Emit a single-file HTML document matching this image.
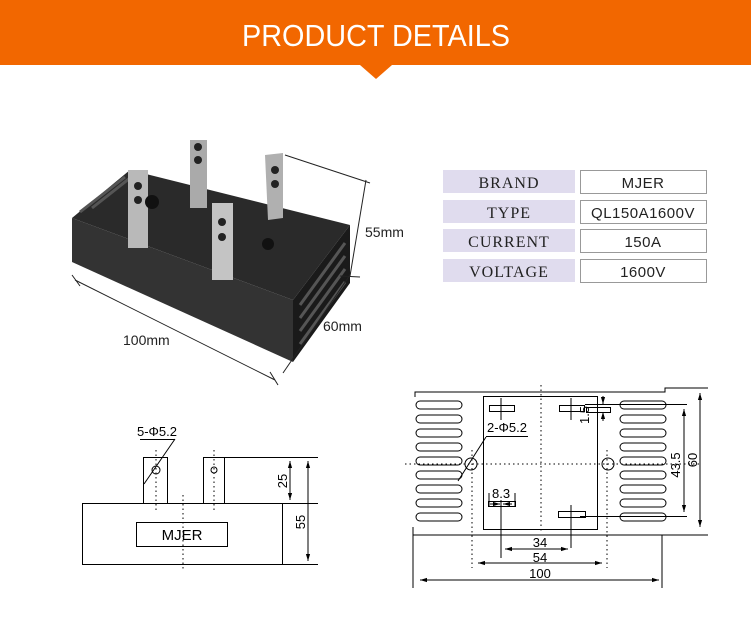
<!DOCTYPE html>
<html><head><meta charset="utf-8"><style>
body{margin:0;background:#fff;width:751px;height:624px;overflow:hidden;font-family:"Liberation Sans",sans-serif}
</style></head><body>
<svg width="751" height="624" viewBox="0 0 751 624" xmlns="http://www.w3.org/2000/svg">
<defs>
<marker id="a" viewBox="0 0 10 10" refX="10" refY="5" markerWidth="7" markerHeight="7" orient="auto-start-reverse"><path d="M0,2 L10,5 L0,8 z" fill="#000"/></marker>
</defs>
<rect x="0" y="0" width="751" height="65" fill="#F26700"/>
<polygon points="360,65 392,65 376,79" fill="#F26700"/>
<text x="376" y="46" fill="#fff" font-size="31" text-anchor="middle" transform="translate(376 0) scale(0.93 1) translate(-376 0)">PRODUCT  DETAILS</text>

<g>
<polygon points="72,218 130,170 350,225 293,300" fill="#2a2a2a"/>
<polygon points="72,218 293,300 293,362 72,262" fill="#333"/>
<polygon points="293,300 350,225 350,283 293,362" fill="#1a1a1a"/>
<g stroke="#555" stroke-width="3">
<line x1="300" y1="305" x2="345" y2="243"/><line x1="300" y1="318" x2="345" y2="256"/><line x1="300" y1="331" x2="345" y2="269"/><line x1="300" y1="344" x2="345" y2="282"/>
<line x1="80" y1="212" x2="125" y2="177"/><line x1="92" y1="208" x2="135" y2="174"/>
</g>
<rect x="128" y="170" width="20" height="78" fill="#b9b9b9"/>
<rect x="190" y="140" width="17" height="68" fill="#aaa"/>
<polygon points="265,155 283,153 283,218 268,220" fill="#b0b0b0"/>
<rect x="212" y="203" width="21" height="77" fill="#c4c4c4"/>
<circle cx="138" cy="186" r="4" fill="#222"/><circle cx="138" cy="200" r="4" fill="#222"/>
<circle cx="198" cy="147" r="4" fill="#222"/><circle cx="198" cy="160" r="4" fill="#222"/>
<circle cx="275" cy="170" r="4" fill="#222"/><circle cx="275" cy="184" r="4" fill="#222"/>
<circle cx="222" cy="222" r="4" fill="#222"/><circle cx="222" cy="237" r="4" fill="#222"/>
<circle cx="268" cy="244" r="6" fill="#111"/><circle cx="152" cy="202" r="7" fill="#111"/>
</g>
<g stroke="#222" stroke-width="1" fill="none">
<line x1="75" y1="280" x2="275" y2="380"/><line x1="72" y1="275" x2="80" y2="286"/><line x1="270" y1="372" x2="278" y2="385"/>
<line x1="285" y1="155" x2="370" y2="183"/><line x1="366" y1="180" x2="350" y2="276"/><line x1="350" y1="275" x2="283" y2="373"/><line x1="340" y1="276" x2="360" y2="277"/>
</g>
<g font-size="14" fill="#222">
<text x="365" y="237">55mm</text><text x="323" y="331">60mm</text><text x="123" y="345">100mm</text>
</g>

<g font-family="Liberation Serif,serif" font-size="16" fill="#222" text-anchor="middle" letter-spacing="1">
<rect x="443" y="170" width="132" height="23" fill="#E0DCEE"/><rect x="580.5" y="170.5" width="126" height="23" fill="#fff" stroke="#999"/>
<rect x="443" y="200" width="132" height="23" fill="#E0DCEE"/><rect x="580.5" y="200.5" width="126" height="23" fill="#fff" stroke="#999"/>
<rect x="443" y="229" width="132" height="23" fill="#E0DCEE"/><rect x="580.5" y="229.5" width="126" height="23" fill="#fff" stroke="#999"/>
<rect x="443" y="259" width="132" height="23" fill="#E0DCEE"/><rect x="580.5" y="259.5" width="126" height="23" fill="#fff" stroke="#999"/>
<text x="509" y="188">BRAND</text><text x="509" y="218">TYPE</text><text x="509" y="247">CURRENT</text><text x="509" y="277">VOLTAGE</text>
<g font-family="Liberation Sans,sans-serif" font-size="15" letter-spacing="0.5"><text x="643" y="188">MJER</text><text x="643" y="218">QL150A1600V</text><text x="643" y="247">150A</text><text x="643" y="277">1600V</text></g>
</g>

<g stroke="#000" stroke-width="1" fill="none">
<rect x="82.5" y="503.5" width="200" height="61"/>
<rect x="136.5" y="522.5" width="91" height="24"/>
<rect x="143.5" y="457.5" width="24" height="46"/>
<rect x="203.5" y="457.5" width="21" height="46"/>
<circle cx="156" cy="470" r="4"/><circle cx="214" cy="470" r="3"/>
<line x1="224" y1="457.5" x2="318" y2="457.5"/><line x1="282" y1="503.5" x2="318" y2="503.5"/><line x1="282" y1="564.5" x2="318" y2="564.5"/>
<line x1="140" y1="439.5" x2="175" y2="439.5"/><line x1="175" y1="439" x2="144" y2="484"/>
<line x1="290" y1="461" x2="290" y2="500" marker-start="url(#a)" marker-end="url(#a)"/>
<line x1="308" y1="461" x2="308" y2="561" marker-start="url(#a)" marker-end="url(#a)"/>
<g stroke-dasharray="1.5 3"><line x1="156" y1="450" x2="156" y2="510"/><line x1="214" y1="450" x2="214" y2="510"/><line x1="183" y1="495" x2="183" y2="570"/></g>
</g>
<g font-size="13" fill="#000">
<text x="137" y="436">5-Φ5.2</text><text x="182" y="540" font-size="15" text-anchor="middle">MJER</text>
<text transform="translate(287 481) rotate(-90)" text-anchor="middle">25</text>
<text transform="translate(305 522) rotate(-90)" text-anchor="middle">55</text>
</g>

<g stroke="#000" stroke-width="1" fill="none">
<polyline points="415,397 415,392 665,392 665,388 708,388"/>
<polyline points="413,527 413,535 708,535"/>
<line x1="413" y1="535" x2="413" y2="588"/><line x1="662" y1="535" x2="662" y2="588"/>
<rect x="483.5" y="396.5" width="114" height="133"/>
<g>
<rect x="416" y="401" width="46" height="8" rx="4"/><rect x="416" y="415" width="46" height="8" rx="4"/><rect x="416" y="429" width="46" height="8" rx="4"/><rect x="416" y="443" width="46" height="8" rx="4"/><rect x="416" y="457" width="46" height="8" rx="4"/><rect x="416" y="471" width="46" height="8" rx="4"/><rect x="416" y="485" width="46" height="8" rx="4"/><rect x="416" y="499" width="46" height="8" rx="4"/><rect x="416" y="513" width="46" height="8" rx="4"/>
<rect x="620" y="401" width="46" height="8" rx="4"/><rect x="620" y="415" width="46" height="8" rx="4"/><rect x="620" y="429" width="46" height="8" rx="4"/><rect x="620" y="443" width="46" height="8" rx="4"/><rect x="620" y="457" width="46" height="8" rx="4"/><rect x="620" y="471" width="46" height="8" rx="4"/><rect x="620" y="485" width="46" height="8" rx="4"/><rect x="620" y="499" width="46" height="8" rx="4"/><rect x="620" y="513" width="46" height="8" rx="4"/>
</g>
<rect x="489.5" y="405.5" width="25" height="6"/><line x1="501" y1="398" x2="501" y2="420"/>
<rect x="559.5" y="405.5" width="25" height="6"/><line x1="571" y1="398" x2="571" y2="420"/>
<rect x="586.5" y="407.5" width="24" height="5"/>
<rect x="488.5" y="501.5" width="27" height="5"/><line x1="489" y1="493" x2="489" y2="506"/><line x1="515" y1="493" x2="515" y2="506"/>
<rect x="558.5" y="511.5" width="27" height="6"/><line x1="571" y1="505" x2="571" y2="548"/><line x1="501" y1="500" x2="501" y2="558"/>
<circle cx="471" cy="464" r="6"/><circle cx="608" cy="464" r="6"/>
<line x1="585" y1="404.5" x2="687" y2="404.5"/><line x1="580" y1="516.5" x2="687" y2="516.5"/>
<line x1="684" y1="409" x2="684" y2="512" marker-start="url(#a)" marker-end="url(#a)"/>
<line x1="700" y1="393" x2="700" y2="527" marker-start="url(#a)" marker-end="url(#a)"/>
<line x1="603" y1="396" x2="603" y2="404" marker-end="url(#a)"/><line x1="603" y1="421" x2="603" y2="412" marker-end="url(#a)"/>
<line x1="505" y1="549" x2="568" y2="549" marker-start="url(#a)" marker-end="url(#a)"/>
<line x1="478" y1="563" x2="602" y2="563" marker-start="url(#a)" marker-end="url(#a)"/>
<line x1="420" y1="580" x2="659" y2="580" marker-start="url(#a)" marker-end="url(#a)"/>
<line x1="490" y1="504" x2="500" y2="504" marker-end="url(#a)"/><line x1="512" y1="504" x2="503" y2="504" marker-end="url(#a)"/>
<line x1="486" y1="436.5" x2="528" y2="436.5"/><line x1="486" y1="437" x2="458" y2="481"/>
<g stroke-dasharray="1.5 3"><line x1="472" y1="450" x2="472" y2="568"/><line x1="607" y1="450" x2="607" y2="568"/><line x1="541" y1="385" x2="541" y2="532"/><line x1="405" y1="464" x2="700" y2="464"/></g>
</g>
<g font-size="13" fill="#000">
<text x="487" y="432">2-Φ5.2</text><text x="492" y="498">8.3</text>
<text x="540" y="547" text-anchor="middle">34</text><text x="540" y="562" text-anchor="middle">54</text><text x="540" y="578" text-anchor="middle">100</text>
<text transform="translate(589 415) rotate(-90)" text-anchor="middle">1.5</text>
<text transform="translate(680 465) rotate(-90)" text-anchor="middle">43.5</text>
<text transform="translate(697 460) rotate(-90)" text-anchor="middle">60</text>
</g>
</svg>
</body></html>
